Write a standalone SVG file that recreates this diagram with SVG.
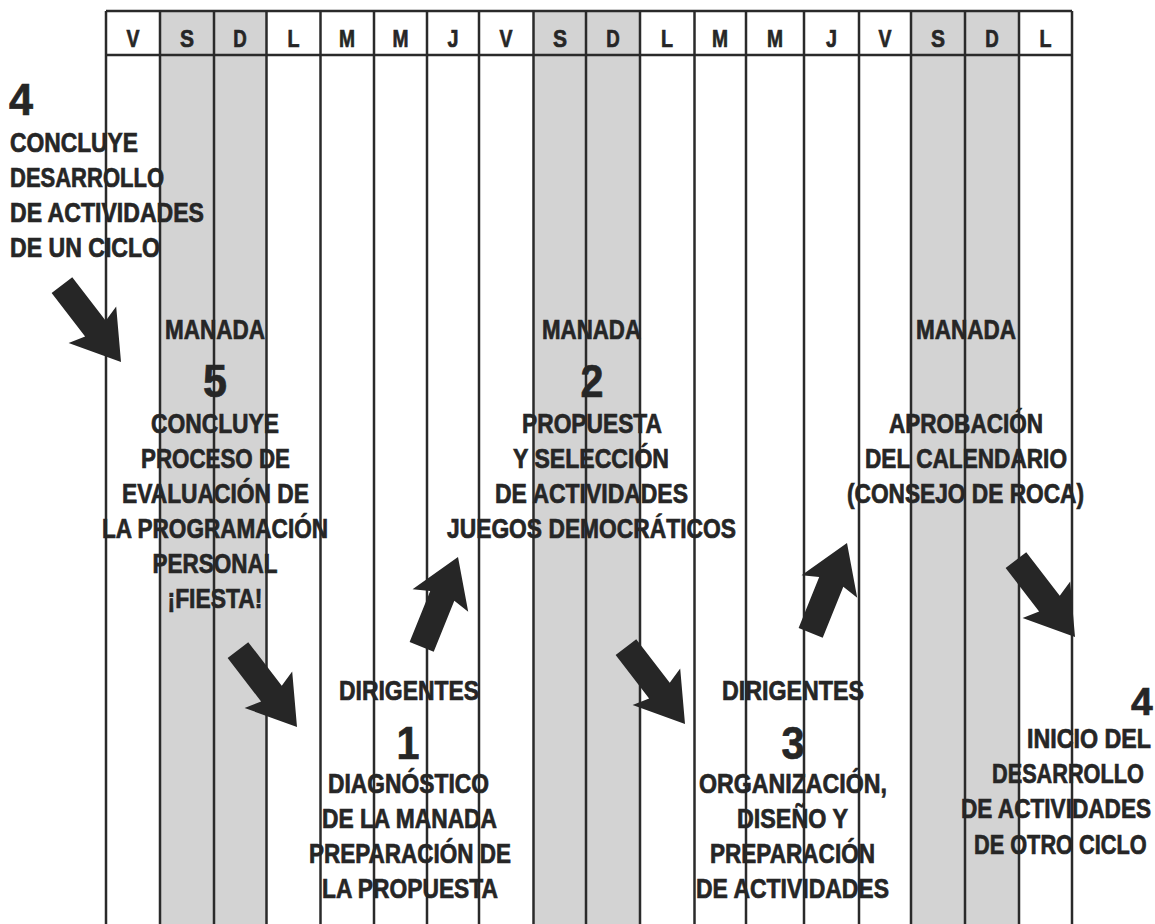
<svg xmlns="http://www.w3.org/2000/svg" xmlns:xlink="http://www.w3.org/1999/xlink" width="1155" height="924" viewBox="0 0 1155 924">
<style>
  .wk { fill: #d3d3d3; }
  .ln { stroke: #2a2a2a; stroke-width: 2.5; fill: none; }
  text { font-family: "Liberation Sans", Arial, sans-serif; font-weight: bold; fill: #262626; stroke: #262626; stroke-width: 0.7; }
  .hd { font-size: 24px; text-anchor: middle; }
  .t { font-size: 27px; }
  .c { text-anchor: middle; }
  .num { font-size: 47px; text-anchor: middle; }
  .arr { fill: #262626; }
</style>
<defs>
  <polygon id="arrow" class="arr" points="-97,-13 -42,-13 -47,-30 0,0 -47,30 -42,13 -97,13"/>
</defs>
<rect x="0" y="0" width="1155" height="924" fill="#ffffff"/>

<g id="calendar">
  <rect class="wk" x="160" y="11" width="106.5" height="913"/>
  <rect class="wk" x="533.5" y="11" width="106.5" height="913"/>
  <rect class="wk" x="911" y="11" width="108" height="913"/>
  <line class="ln" x1="106" y1="11" x2="1072" y2="11"/>
  <line class="ln" x1="106" y1="55" x2="1072" y2="55"/>
  <line class="ln" x1="106" y1="11" x2="106" y2="924"/>
  <line class="ln" x1="160" y1="11" x2="160" y2="924"/>
  <line class="ln" x1="214" y1="11" x2="214" y2="924"/>
  <line class="ln" x1="266.5" y1="11" x2="266.5" y2="924"/>
  <line class="ln" x1="320.5" y1="11" x2="320.5" y2="924"/>
  <line class="ln" x1="374" y1="11" x2="374" y2="924"/>
  <line class="ln" x1="427" y1="11" x2="427" y2="924"/>
  <line class="ln" x1="479" y1="11" x2="479" y2="924"/>
  <line class="ln" x1="533.5" y1="11" x2="533.5" y2="924"/>
  <line class="ln" x1="586" y1="11" x2="586" y2="924"/>
  <line class="ln" x1="640" y1="11" x2="640" y2="924"/>
  <line class="ln" x1="694.5" y1="11" x2="694.5" y2="924"/>
  <line class="ln" x1="746" y1="11" x2="746" y2="924"/>
  <line class="ln" x1="804" y1="11" x2="804" y2="924"/>
  <line class="ln" x1="859" y1="11" x2="859" y2="924"/>
  <line class="ln" x1="911" y1="11" x2="911" y2="924"/>
  <line class="ln" x1="965" y1="11" x2="965" y2="924"/>
  <line class="ln" x1="1019" y1="11" x2="1019" y2="924"/>
  <line class="ln" x1="1072" y1="11" x2="1072" y2="924"/>
  <g id="days">
    <text class="hd" x="133" y="47" textLength="13" lengthAdjust="spacingAndGlyphs">V</text>
    <text class="hd" x="187" y="47" textLength="14" lengthAdjust="spacingAndGlyphs">S</text>
    <text class="hd" x="240" y="47" textLength="13.5" lengthAdjust="spacingAndGlyphs">D</text>
    <text class="hd" x="293.5" y="47" textLength="12" lengthAdjust="spacingAndGlyphs">L</text>
    <text class="hd" x="347" y="47" textLength="16" lengthAdjust="spacingAndGlyphs">M</text>
    <text class="hd" x="400.5" y="47" textLength="16" lengthAdjust="spacingAndGlyphs">M</text>
    <text class="hd" x="453" y="47" textLength="11" lengthAdjust="spacingAndGlyphs">J</text>
    <text class="hd" x="506" y="47" textLength="13" lengthAdjust="spacingAndGlyphs">V</text>
    <text class="hd" x="560" y="47" textLength="14" lengthAdjust="spacingAndGlyphs">S</text>
    <text class="hd" x="613" y="47" textLength="13.5" lengthAdjust="spacingAndGlyphs">D</text>
    <text class="hd" x="667" y="47" textLength="12" lengthAdjust="spacingAndGlyphs">L</text>
    <text class="hd" x="720" y="47" textLength="16" lengthAdjust="spacingAndGlyphs">M</text>
    <text class="hd" x="775" y="47" textLength="16" lengthAdjust="spacingAndGlyphs">M</text>
    <text class="hd" x="831.5" y="47" textLength="11" lengthAdjust="spacingAndGlyphs">J</text>
    <text class="hd" x="885" y="47" textLength="13" lengthAdjust="spacingAndGlyphs">V</text>
    <text class="hd" x="938" y="47" textLength="14" lengthAdjust="spacingAndGlyphs">S</text>
    <text class="hd" x="992" y="47" textLength="13.5" lengthAdjust="spacingAndGlyphs">D</text>
    <text class="hd" x="1045.5" y="47" textLength="12" lengthAdjust="spacingAndGlyphs">L</text>
  </g>
</g>

<g id="node-4-start">
  <text x="9" y="115" font-size="45" textLength="24" lengthAdjust="spacingAndGlyphs">4</text>
  <text class="t" x="10" y="152" textLength="128" lengthAdjust="spacingAndGlyphs">CONCLUYE</text>
  <text class="t" x="10" y="187" textLength="154" lengthAdjust="spacingAndGlyphs">DESARROLLO</text>
  <text class="t" x="10" y="222" textLength="194" lengthAdjust="spacingAndGlyphs">DE ACTIVIDADES</text>
  <text class="t" x="10" y="257" textLength="150" lengthAdjust="spacingAndGlyphs">DE UN CICLO</text>
</g>

<g id="node-5">
  <text class="t c" x="215" y="339" textLength="100" lengthAdjust="spacingAndGlyphs">MANADA</text>
  <text class="num" x="215" y="397" textLength="24" lengthAdjust="spacingAndGlyphs">5</text>
  <text class="t c" x="215" y="433" textLength="128" lengthAdjust="spacingAndGlyphs">CONCLUYE</text>
  <text class="t c" x="215.5" y="468" textLength="149" lengthAdjust="spacingAndGlyphs">PROCESO DE</text>
  <text class="t c" x="215.5" y="503" textLength="187" lengthAdjust="spacingAndGlyphs">EVALUACIÓN DE</text>
  <text class="t c" x="215" y="538" textLength="226" lengthAdjust="spacingAndGlyphs">LA PROGRAMACIÓN</text>
  <text class="t c" x="215" y="573" textLength="125" lengthAdjust="spacingAndGlyphs">PERSONAL</text>
  <text class="t c" x="215" y="608" textLength="95" lengthAdjust="spacingAndGlyphs">¡FIESTA!</text>
</g>

<g id="node-2">
  <text class="t c" x="591.5" y="339" textLength="99" lengthAdjust="spacingAndGlyphs">MANADA</text>
  <text class="num" x="592" y="397" textLength="23" lengthAdjust="spacingAndGlyphs">2</text>
  <text class="t c" x="592" y="433" textLength="140" lengthAdjust="spacingAndGlyphs">PROPUESTA</text>
  <text class="t c" x="591" y="468" textLength="156" lengthAdjust="spacingAndGlyphs">Y SELECCIÓN</text>
  <text class="t c" x="591.5" y="503" textLength="193" lengthAdjust="spacingAndGlyphs">DE ACTIVIDADES</text>
  <text class="t c" x="591.5" y="538" textLength="289" lengthAdjust="spacingAndGlyphs">JUEGOS DEMOCRÁTICOS</text>
</g>

<g id="node-aprobacion">
  <text class="t c" x="966" y="339" textLength="100" lengthAdjust="spacingAndGlyphs">MANADA</text>
  <text class="t c" x="966" y="433" textLength="154" lengthAdjust="spacingAndGlyphs">APROBACIÓN</text>
  <text class="t c" x="966" y="468" textLength="202" lengthAdjust="spacingAndGlyphs">DEL CALENDARIO</text>
  <text class="t c" x="965.5" y="503" textLength="237" lengthAdjust="spacingAndGlyphs">(CONSEJO DE ROCA)</text>
</g>

<g id="node-1">
  <text class="t c" x="409" y="700" textLength="140" lengthAdjust="spacingAndGlyphs">DIRIGENTES</text>
  <text class="num" x="408" y="759" textLength="23" lengthAdjust="spacingAndGlyphs">1</text>
  <text class="t c" x="408.5" y="793" textLength="161" lengthAdjust="spacingAndGlyphs">DIAGNÓSTICO</text>
  <text class="t c" x="409.5" y="828" textLength="175" lengthAdjust="spacingAndGlyphs">DE LA MANADA</text>
  <text class="t c" x="410" y="863" textLength="202" lengthAdjust="spacingAndGlyphs">PREPARACIÓN DE</text>
  <text class="t c" x="410" y="898" textLength="176" lengthAdjust="spacingAndGlyphs">LA PROPUESTA</text>
</g>

<g id="node-3">
  <text class="t c" x="793" y="700" textLength="142" lengthAdjust="spacingAndGlyphs">DIRIGENTES</text>
  <text class="num" x="793" y="759" textLength="23" lengthAdjust="spacingAndGlyphs">3</text>
  <text class="t c" x="793" y="793" textLength="188" lengthAdjust="spacingAndGlyphs">ORGANIZACIÓN,</text>
  <text class="t c" x="792.5" y="828" textLength="111" lengthAdjust="spacingAndGlyphs">DISEÑO Y</text>
  <text class="t c" x="792.5" y="863" textLength="165" lengthAdjust="spacingAndGlyphs">PREPARACIÓN</text>
  <text class="t c" x="792.5" y="898" textLength="193" lengthAdjust="spacingAndGlyphs">DE ACTIVIDADES</text>
</g>

<g id="node-4-end">
  <text x="1131" y="715" font-size="39">4</text>
  <text class="t" transform="translate(1027,748) scale(0.861,1)">INICIO DEL</text>
  <text class="t" transform="translate(992,783) scale(0.804,1)">DESARROLLO</text>
  <text class="t" transform="translate(961,818) scale(0.838,1)">DE ACTIVIDADES</text>
  <text class="t" transform="translate(974,854) scale(0.805,1)">DE OTRO CICLO</text>
</g>

<g id="connectors">
  <use xlink:href="#arrow" href="#arrow" transform="translate(121,362) rotate(52.5)"/>
  <use xlink:href="#arrow" href="#arrow" transform="translate(297,727) rotate(52.5)"/>
  <use xlink:href="#arrow" href="#arrow" transform="translate(458,557) rotate(-68)"/>
  <use xlink:href="#arrow" href="#arrow" transform="translate(685,724) rotate(52.5)"/>
  <use xlink:href="#arrow" href="#arrow" transform="translate(847,543) rotate(-68)"/>
  <use xlink:href="#arrow" href="#arrow" transform="translate(1075,637) rotate(52.5)"/>
</g>
</svg>
